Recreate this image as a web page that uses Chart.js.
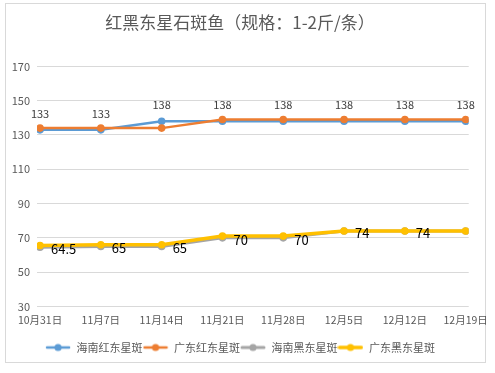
<!DOCTYPE html>
<html>
<head>
<meta charset="utf-8">
<script src="https://cdn.jsdelivr.net/npm/chart.js@4/dist/chart.umd.min.js"></script>
<style>
html,body{margin:0;padding:0;background:#fff;}
#wrap{width:495px;height:373px;position:relative;}
</style>
</head>
<body>
<div id="wrap"><canvas id="c" width="495" height="373"></canvas></div>
<script>
const categories = ['10月31日','11月7日','11月14日','11月21日','11月28日','12月5日','12月12日','12月19日'];
const seriesNames = ['海南红东星斑','广东红东星斑','海南黑东星斑','广东黑东星斑'];
const hainanRed = [133,133,138,138,138,138,138,138];
const guangdongRed = [134,134,134,139,139,139,139,139];
const hainanBlack = [64.5,65,65,70,70,74,74,74];
const guangdongBlack = [65.5,66,66,71,71,74,74,74];
const hainanRedLabels = ['133','133','138','138','138','138','138','138'];
const hainanBlackLabels = ['64.5','65','65','70','70','74','74',''];
const yTicks = [30,50,70,90,110,130,150,170];
const titleText = '红黑东星石斑鱼（规格：1-2斤/条）';

const colors = ['#5B9BD5','#ED7D31','#A5A5A5','#FFC000'];
const widths = [2.5,2.5,3,3.5];
const FONT = '"Noto Sans CJK SC","Noto Sans",sans-serif';

function toXY(arr){ return arr.map((v,i)=>({x:i,y:v})); }
const allSeries = [hainanRed, guangdongRed, hainanBlack, guangdongBlack];

function legendImg(color, w){
  const c = document.createElement('canvas');
  c.width = 26; c.height = 10;
  const g = c.getContext('2d');
  g.strokeStyle = color; g.lineWidth = w; g.lineCap='round';
  g.beginPath(); g.moveTo(2,5); g.lineTo(24,5); g.stroke();
  g.fillStyle = color;
  g.beginPath(); g.arc(13,5,3.6,0,Math.PI*2); g.fill();
  return c;
}

const borderPlugin = {
  id:'outerBorder',
  beforeDraw(chart){
    const ctx = chart.ctx;
    ctx.save();
    ctx.fillStyle='#fff'; ctx.fillRect(0,0,chart.width,chart.height);
    ctx.strokeStyle='#d9d9d9'; ctx.lineWidth=1;
    ctx.strokeRect(5.5,3.5,480,359);
    ctx.restore();
  }
};

const labelPlugin = {
  id:'valueLabels',
  afterDatasetsDraw(chart){
    const ctx = chart.ctx;
    ctx.save();
    const m0 = chart.getDatasetMeta(0);
    ctx.font = '11px ' + FONT;
    ctx.fillStyle = '#404040';
    ctx.textAlign = 'center';
    ctx.textBaseline = 'middle';
    m0.data.forEach((p,i)=>{
      if(hainanRedLabels[i]) ctx.fillText(hainanRedLabels[i], p.x, p.y-16);
    });
    const m2 = chart.getDatasetMeta(2);
    ctx.font = '13px ' + FONT;
    ctx.fillStyle = '#000';
    ctx.textAlign = 'left';
    m2.data.forEach((p,i)=>{
      if(hainanBlackLabels[i]) ctx.fillText(hainanBlackLabels[i], p.x+11, p.y+2);
    });
    ctx.restore();
  }
};

const datasets = allSeries.map((arr,i)=>({
  label: seriesNames[i],
  data: toXY(arr),
  borderColor: colors[i],
  backgroundColor: colors[i],
  borderWidth: widths[i],
  pointRadius: 3.8,
  pointHoverRadius: 3.8,
  pointBorderWidth: 0,
  pointBackgroundColor: colors[i],
  tension: 0,
  order: 4-i
}));

new Chart(document.getElementById('c'), {
  type:'line',
  data:{ datasets },
  options:{
    responsive:false,
    animation:false,
    devicePixelRatio:1,
    layout:{ padding:{ left:10, right:25, top:0, bottom:10 } },
    plugins:{
      title:{
        display:true, text:titleText, color:'#595959',
        font:{ family:FONT, size:17, weight:'normal' },
        padding:{ top:12, bottom:34 }
      },
      legend:{
        position:'bottom',
        labels:{
          usePointStyle:true,
          pointStyleWidth:26,
          boxHeight:10,
          padding:0,
          color:'#595959',
          font:{ family:FONT, size:11 },
          generateLabels(chart){
            return chart.data.datasets.map((ds,i)=>({
              text: ds.label,
              fillStyle: colors[i],
              strokeStyle: colors[i],
              lineWidth: 0,
              pointStyle: legendImg(colors[i], widths[i]),
              datasetIndex: i,
              hidden: false,
              fontColor:'#595959'
            }));
          }
        }
      },
      tooltip:{ enabled:false }
    },
    scales:{
      x:{
        type:'linear',
        min:-0.05, max:7.05,
        grid:{ display:false, drawTicks:false },
        border:{ display:false },
        afterBuildTicks(scale){ scale.ticks = categories.map((_,i)=>({value:i})); },
        afterFit(scale){ scale.height = scale.height + 9; },
        ticks:{
          callback:(v)=>categories[v],
          color:'#595959',
          font:{ family:FONT, size:10.5 },
          padding:7,
          maxRotation:0,
          autoSkip:false
        }
      },
      y:{
        min:30, max:170,
        afterFit(scale){ scale.width = 27; },
        afterBuildTicks(scale){ scale.ticks = yTicks.map(v=>({value:v})); },
        grid:{ color:'#d9d9d9', lineWidth:1, drawTicks:false },
        border:{ display:false },
        ticks:{
          color:'#595959',
          font:{ family:FONT, size:11 },
          padding:7
        }
      }
    }
  },
  plugins:[borderPlugin, labelPlugin]
});
</script>
</body>
</html>
